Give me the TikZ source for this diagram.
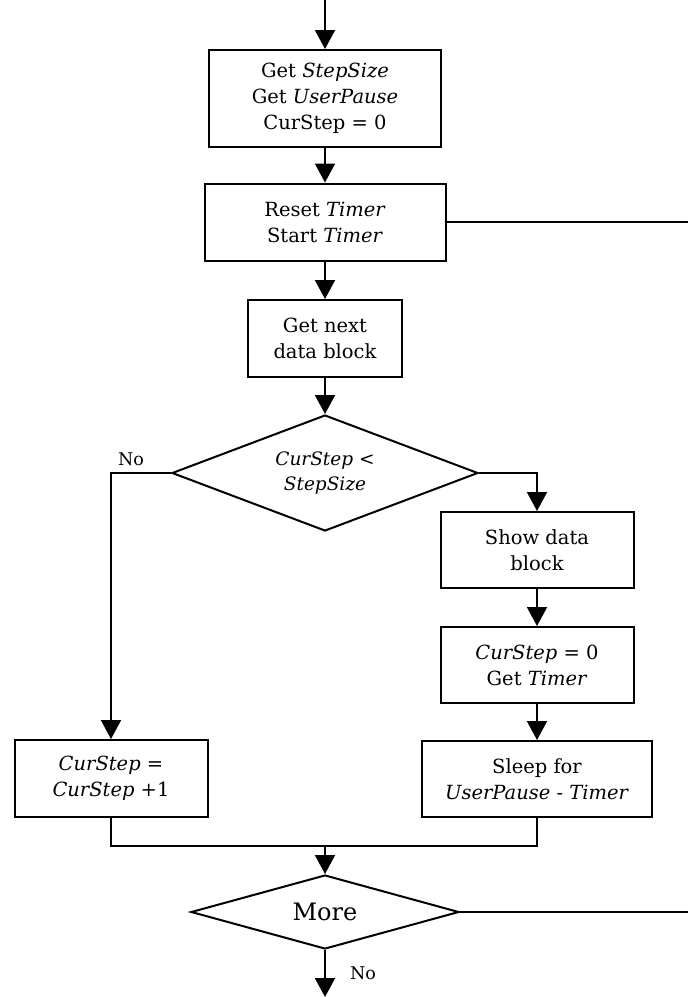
\documentclass[tikz,border=0pt]{standalone}
\usepackage{fontspec}
\setmainfont{DejaVu Serif}
\usetikzlibrary{arrows.meta,shapes.geometric}

\tikzset{
  flow/.style={line width=2pt},
  arr/.style={flow,-{Triangle[length=19pt,width=20pt]}},
  procbox/.style={draw,line width=2pt,align=center,inner sep=0pt,
    font=\fontsize{19.5}{26}\selectfont},
  % negative inner sep lets the minimum size fix the diamond outline
  decide/.style={draw,diamond,line width=2pt,align=center,inner sep=-30pt},
  lbl/.style={font=\fontsize{17.5}{20}\selectfont,inner sep=0pt}
}

\begin{document}
\begin{tikzpicture}[x=1pt,y=-1pt]
\useasboundingbox (0,0) rectangle (688,997);

% main column
\node[procbox,minimum width=232pt,minimum height=97pt] (init) at (325,98.5)
  {Get \textit{StepSize}\\Get \textit{UserPause}\\CurStep = 0};
\node[procbox,minimum width=241pt,minimum height=77pt] (reset) at (325,222)
  {Reset \textit{Timer}\\Start \textit{Timer}};
\node[procbox,minimum width=154pt,minimum height=77pt] (fetch) at (325,338.5)
  {Get next\\data block};
\node[decide,minimum width=306pt,minimum height=116pt,
  font=\fontsize{18.5}{25}\selectfont] (cmp) at (325,473)
  {\textit{CurStep} <\\\textit{StepSize}};

% right branch
\node[procbox,minimum width=193pt,minimum height=76pt] (show) at (537,550)
  {Show data\\block};
\node[procbox,minimum width=193pt,minimum height=76pt] (zero) at (537,665)
  {\textit{CurStep} = 0\\Get \textit{Timer}};
\node[procbox,minimum width=230pt,minimum height=76pt] (sleep) at (537,779)
  {Sleep for\\\textit{UserPause} - \textit{Timer}};

% left branch
\node[procbox,minimum width=193pt,minimum height=77pt] (incr) at (111,778.5)
  {\textit{CurStep} =\\\textit{CurStep} +1};

% loop test
\node[decide,minimum width=268pt,minimum height=74pt,
  font=\fontsize{24}{28}\selectfont] (more) at (325,912) {More};

% labels
\node[lbl] (nolft) at (131,459) {No};
\node[lbl] (nobot) at (363,973) {No};

% free ends
\coordinate (entry) at (325,0);
\coordinate (exit) at (325,997);
\coordinate (loopa) at (688,222);
\coordinate (loopb) at (688,912);
\coordinate (merge) at (325,846);

% connectors
\draw[arr] (entry) -- (init.north);
\draw[arr] (init.south) -- (reset.north);
\draw[flow] (reset.east) -- (loopa);
\draw[arr] (reset.south) -- (fetch.north);
\draw[arr] (fetch.south) -- (cmp.north);
\draw[arr] (cmp.east) -| (show.north);
\draw[arr] (show.south) -- (zero.north);
\draw[arr] (zero.south) -- (sleep.north);
\draw[arr] (cmp.west) -| (incr.north);
\draw[flow] (incr.south) |- (merge);
\draw[flow] (sleep.south) |- (merge);
\draw[arr] (merge) -- (more.north);
\draw[flow] (more.east) -- (loopb);
\draw[arr] (more.south) -- (exit);
\end{tikzpicture}
\end{document}
